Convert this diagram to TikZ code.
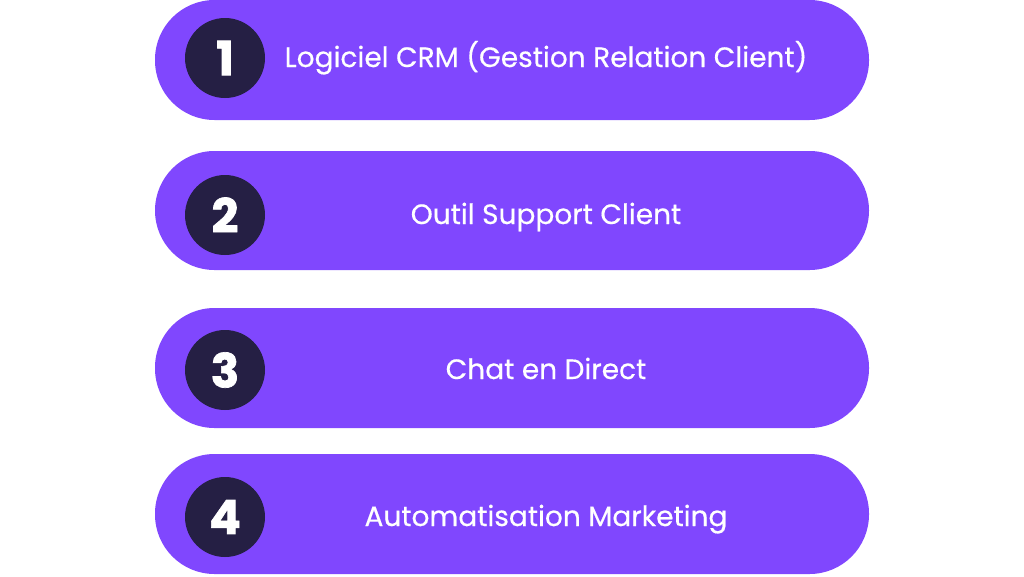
\documentclass[tikz,border=0pt]{standalone}
\usepackage{fontspec}
\setmainfont{Poppins}
\definecolor{pill}{HTML}{8047FE}
\definecolor{dark}{HTML}{251F44}
\begin{document}
\begin{tikzpicture}[x=1pt,y=-1pt,
  pillbox/.style={fill=pill, draw=none, rounded corners=59.5pt},
  numcirc/.style={circle, fill=dark, minimum size=80pt, inner sep=0pt, text=white, font=\fontsize{47}{47}\selectfont\bfseries\addfontfeature{FakeBold=1.5}},
  label/.style={text=white, font=\fontsize{28}{28}\selectfont\addfontfeature{FakeBold=0.4}, inner sep=0pt, anchor=base}]
\useasboundingbox (0,0) rectangle (1024,576);
\foreach \i/\yt/\yb/\cy/\t in {1/0/120/58/{Logiciel CRM (Gestion Relation Client)},2/151/270/215/{Outil Support Client},3/308/428/370/{Chat en Direct},4/454/574/517/{Automatisation Marketing}}{
  \fill[pillbox] (155,\yt) rectangle (869,\yb);
  \node[numcirc] (n\i) at (225,\cy) {\i};
  \node[label] (t\i) at (546,\cy+9) {\t};
}
\end{tikzpicture}
\end{document}
